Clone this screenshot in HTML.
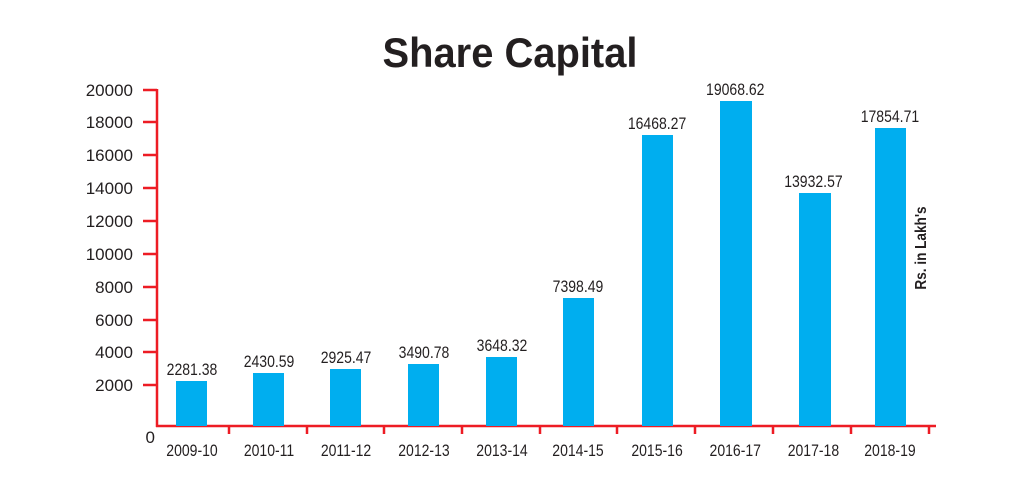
<!DOCTYPE html>
<html><head><style>
body{margin:0;background:#fff;}
svg{display:block;}
text{font-family:"Liberation Sans",Arial,sans-serif;fill:#231f20;}
</style></head><body>
<svg width="1019" height="497" viewBox="0 0 1019 497" xmlns="http://www.w3.org/2000/svg">
<text x="510" y="67" text-anchor="middle" font-size="42" font-weight="bold" transform="translate(510 0) scale(0.95 1) translate(-510 0)">Share Capital</text>
<g stroke="#ed1c24" stroke-width="2.5" fill="none">
<line x1="157" y1="89" x2="157" y2="427"/>
<line x1="156" y1="426" x2="936" y2="426"/>
<line x1="143" y1="90" x2="157" y2="90"/>
<line x1="143" y1="122" x2="157" y2="122"/>
<line x1="143" y1="155" x2="157" y2="155"/>
<line x1="143" y1="188" x2="157" y2="188"/>
<line x1="143" y1="221" x2="157" y2="221"/>
<line x1="143" y1="254" x2="157" y2="254"/>
<line x1="143" y1="287" x2="157" y2="287"/>
<line x1="143" y1="320" x2="157" y2="320"/>
<line x1="143" y1="352" x2="157" y2="352"/>
<line x1="143" y1="385" x2="157" y2="385"/>
<line x1="229" y1="426" x2="229" y2="434"/>
<line x1="307" y1="426" x2="307" y2="434"/>
<line x1="384" y1="426" x2="384" y2="434"/>
<line x1="462" y1="426" x2="462" y2="434"/>
<line x1="540" y1="426" x2="540" y2="434"/>
<line x1="617" y1="426" x2="617" y2="434"/>
<line x1="695" y1="426" x2="695" y2="434"/>
<line x1="773" y1="426" x2="773" y2="434"/>
<line x1="851" y1="426" x2="851" y2="434"/>
<line x1="929" y1="426" x2="929" y2="434"/>
</g>
<g font-size="17" text-anchor="end">
<text x="133" y="96">20000</text>
<text x="133" y="128">18000</text>
<text x="133" y="161">16000</text>
<text x="133" y="194">14000</text>
<text x="133" y="227">12000</text>
<text x="133" y="260">10000</text>
<text x="133" y="293">8000</text>
<text x="133" y="326">6000</text>
<text x="133" y="358">4000</text>
<text x="133" y="391">2000</text>
<text x="155" y="443">0</text>
</g>
<g fill="#00aeef">
<rect x="176" y="381" width="31" height="45"/>
<rect x="253" y="373" width="31" height="53"/>
<rect x="330" y="369" width="31" height="57"/>
<rect x="408" y="364" width="31" height="62"/>
<rect x="486" y="357" width="31" height="69"/>
<rect x="563" y="298" width="31" height="128"/>
<rect x="642" y="135" width="31" height="291"/>
<rect x="720" y="101" width="32" height="325"/>
<rect x="799" y="193" width="32" height="233"/>
<rect x="875" y="128" width="31" height="298"/>
</g>
<g font-size="16.5" text-anchor="middle">
<g transform="scale(0.85 1)">
<text x="225.9" y="375">2281.38</text>
<text x="316.5" y="367">2430.59</text>
<text x="407.1" y="363">2925.47</text>
<text x="498.8" y="358">3490.78</text>
<text x="590.6" y="351">3648.32</text>
<text x="680" y="292">7398.49</text>
<text x="773" y="129">16468.27</text>
<text x="865" y="95">19068.62</text>
<text x="957" y="187">13932.57</text>
<text x="1047" y="122">17854.71</text>
<text x="225.9" y="456">2009-10</text>
<text x="316.5" y="456">2010-11</text>
<text x="407.1" y="456">2011-12</text>
<text x="498.8" y="456">2012-13</text>
<text x="590.6" y="456">2013-14</text>
<text x="680" y="456">2014-15</text>
<text x="773" y="456">2015-16</text>
<text x="865" y="456">2016-17</text>
<text x="957" y="456">2017-18</text>
<text x="1047" y="456">2018-19</text>
</g>
</g>
<text font-size="16" font-weight="bold" text-anchor="middle" transform="translate(926 248) rotate(-90) scale(0.85 1)">Rs. in Lakh's</text>
</svg>
</body></html>
